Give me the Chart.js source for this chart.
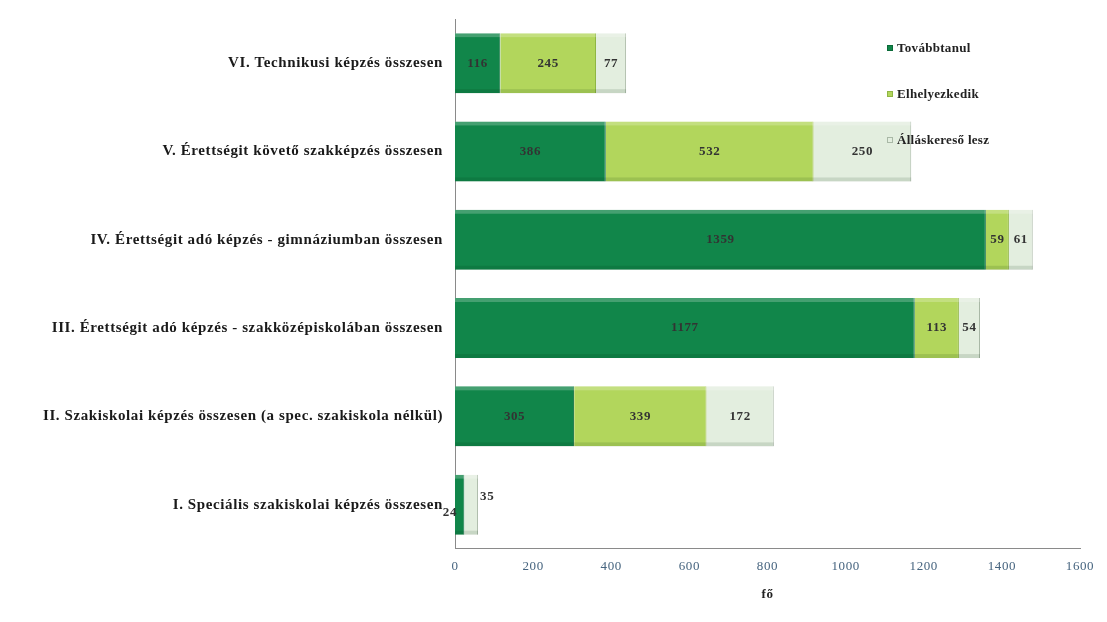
<!DOCTYPE html>
<html>
<head>
<meta charset="utf-8">
<script src="https://cdn.jsdelivr.net/npm/chart.js@4.4.1/dist/chart.umd.min.js"></script>
<style>
  html, body { margin: 0; padding: 0; background: #fff; }
  #wrap { position: relative; width: 1107px; height: 622px; }
  #legend { position: absolute; left: 887px; top: 40px; font: bold 13px "Liberation Serif", serif; color: #222; letter-spacing: 0.3px; }
  #legend div { height: 46px; display: flex; align-items: flex-start; }
  #legend span { display: inline-block; width: 6px; height: 6px; margin: 5px 4px 0 0; box-sizing: border-box; }
</style>
</head>
<body>
<div id="wrap">
  <canvas id="c" width="1107" height="622"></canvas>
  <div id="legend"></div>
</div>
<script>
const categories = [
    'VI. Technikusi képzés összesen',
    'V. Érettségit követő szakképzés összesen',
    'IV. Érettségit adó képzés - gimnáziumban összesen',
    'III. Érettségit adó képzés - szakközépiskolában összesen',
    'II. Szakiskolai képzés összesen (a spec. szakiskola nélkül)',
    'I. Speciális szakiskolai képzés összesen',
];
const tovabbtanul = [116, 386, 1359, 1177, 305, 24];
const elhelyezkedik = [245, 532, 59, 113, 339, 0];
const allaskereso = [77, 250, 61, 54, 172, 35];
const seriesNames = ['Továbbtanul', 'Elhelyezkedik', 'Álláskereső lesz'];
const xTicks = [0, 200, 400, 600, 800, 1000, 1200, 1400, 1600];

const FILL = ['#11864a', '#b2d65c', '#e3eedf'];
const EDGE = ['#0a6a38', '#8fb544', '#a9b8a6'];
const SERIF = '"Liberation Serif", "DejaVu Serif", serif';

// wider letter spacing like the scanned original
const spacing = {
    id: 'spacing',
    beforeDraw(chart) { chart.ctx.letterSpacing = '0.6px'; },
    afterDraw(chart) { chart.ctx.letterSpacing = '0px'; },
};

// bevel: light strip on top, dark strip at the bottom of every segment
const bevel = {
    id: 'bevel',
    afterDatasetsDraw(chart) {
        const c = chart.ctx;
        c.save();
        chart.data.datasets.forEach((ds, di) => {
            chart.getDatasetMeta(di).data.forEach((bar, i) => {
                if (!ds.data[i]) return;
                const left = bar.base, w = bar.x - bar.base;
                const top = bar.y - bar.height / 2, bottom = bar.y + bar.height / 2;
                c.fillStyle = 'rgba(255,255,255,0.22)';
                c.fillRect(left, top, w, 4);
                c.fillStyle = 'rgba(0,40,10,0.12)';
                c.fillRect(left, bottom - 4, w, 4);
            });
        });
        c.restore();
    }
};

// value labels in the middle of each segment
const barLabels = {
    id: 'barLabels',
    afterDatasetsDraw(chart) {
        const c = chart.ctx;
        c.save();
        c.font = 'bold 13px ' + SERIF;
        c.letterSpacing = '0.6px';
        c.fillStyle = '#333';
        c.textBaseline = 'middle';
        chart.data.datasets.forEach((ds, di) => {
            chart.getDatasetMeta(di).data.forEach((bar, i) => {
                const v = ds.data[i];
                if (!v) return;
                const txt = String(v);
                const w = c.measureText(txt).width;
                const left = bar.base, right = bar.x;
                if (right - left > w + 4) {
                    c.textAlign = 'center';
                    c.fillText(txt, (left + right) / 2, bar.y);
                } else if (di === 0) {
                    c.textAlign = 'right';
                    c.fillText(txt, left + 2, bar.y + 8);
                } else {
                    c.textAlign = 'left';
                    c.fillText(txt, right + 2, bar.y - 8);
                }
            });
        });
        c.restore();
    }
};

const datasets = [tovabbtanul, elhelyezkedik, allaskereso].map((data, i) => ({
    label: seriesNames[i],
    data,
    backgroundColor: FILL[i],
    borderColor: EDGE[i],
    borderWidth: { top: 0, bottom: 0, left: 0, right: 1 },
    barPercentage: 0.68,
    categoryPercentage: 1,
}));

new Chart(document.getElementById('c'), {
    type: 'bar',
    data: { labels: categories, datasets },
    options: {
        indexAxis: 'y',
        responsive: false,
        animation: false,
        layout: { padding: { top: 19, right: 27, bottom: 16, left: 0 } },
        plugins: { legend: { display: false }, tooltip: { enabled: false } },
        scales: {
            x: {
                stacked: true,
                min: 0,
                max: 1600,
                afterBuildTicks: (s) => { s.ticks = xTicks.map(v => ({ value: v })); },
                grid: { display: false, tickLength: 4 },
                border: { color: '#8a8a8a' },
                ticks: { color: '#46647f', font: { family: SERIF, size: 13 }, padding: 6, callback: (v) => String(v) },
                title: { display: true, text: 'fő', color: '#222', font: { family: SERIF, size: 13, weight: 'bold' }, padding: { top: 6 } },
            },
            y: {
                stacked: true,
                afterFit: (s) => { s.width = 455; },
                grid: { display: false, tickLength: 4 },
                border: { color: '#8a8a8a' },
                ticks: { color: '#1a1a1a', font: { family: SERIF, size: 15, weight: 'bold' }, padding: 8 },
            },
        },
    },
    plugins: [spacing, bevel, barLabels],
});

const legend = document.getElementById('legend');
seriesNames.forEach((name, i) => {
    legend.innerHTML += `<div><span style="background:${FILL[i]};border:1px solid ${EDGE[i]}"></span>${name}</div>`;
});
</script>
</body>
</html>
